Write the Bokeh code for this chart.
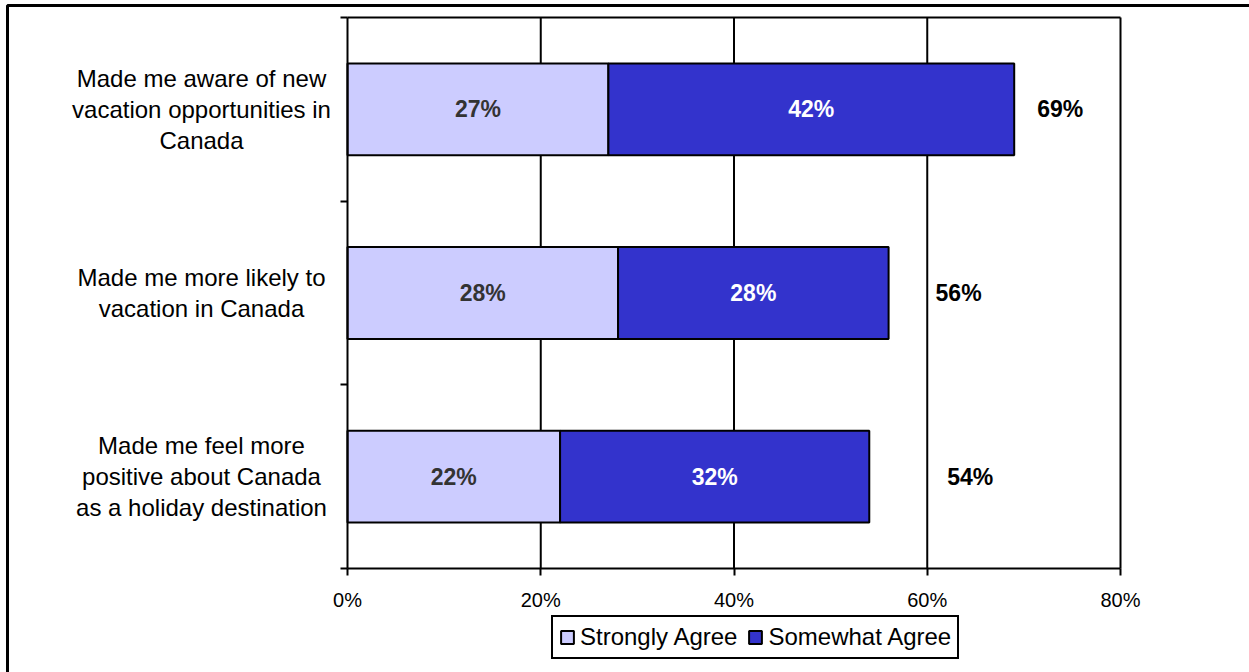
from bokeh.plotting import figure
from bokeh.models import (ColumnDataSource, FixedTicker, PrintfTickFormatter, LabelSet,
                          Legend, LegendItem, Range1d, BoxAnnotation)
from bokeh.core.properties import value
from bokeh.embed import file_html
from bokeh.resources import INLINE

categories = [
    "Made me aware of new\nvacation opportunities in\nCanada",
    "Made me more likely to\nvacation in Canada",
    "Made me feel more\npositive about Canada\nas a holiday destination",
]
strongly_agree = [27, 28, 22]
somewhat_agree = [42, 28, 32]
series_names = ["Strongly Agree", "Somewhat Agree"]
x_ticks = [0, 20, 40, 60, 80]

FONT = "Liberation Sans"
W, H = 1249, 672
PLOT_L, PLOT_R, PLOT_T, PLOT_B = 347, 1120, 17, 568
X_MAX = x_ticks[-1]
LINE_PX = 31

n = len(categories)
ypos = [n - i - 0.5 for i in range(n)]
totals = [a + b for a, b in zip(strongly_agree, somewhat_agree)]

# ranges chosen so that the plot area (0..80, 0..n) sits where the reference has it
kx = (PLOT_R - PLOT_L) / X_MAX
ky = (PLOT_B - PLOT_T) / n
x_range = Range1d(-PLOT_L / kx, (W - PLOT_L) / kx)
y_range = Range1d(-(H - PLOT_B) / ky, n + PLOT_T / ky)

src = ColumnDataSource(dict(
    y=ypos,
    s=strongly_agree,
    total=totals,
    s_mid=[a / 2 for a in strongly_agree],
    w_mid=[a + b / 2 for a, b in zip(strongly_agree, somewhat_agree)],
    s_lab=[f"{v}%" for v in strongly_agree],
    w_lab=[f"{v}%" for v in somewhat_agree],
    t_lab=[f"{v}%" for v in totals],
    t_dx=[46, 70, 101],
))

# one label per text line, so that every line is centred
ln_text, ln_y, ln_dy = [], [], []
for cat, y in zip(categories, ypos):
    lines = cat.split("\n")
    k = len(lines)
    for j, t in enumerate(lines):
        ln_text.append(t)
        ln_y.append(y)
        ln_dy.append(((k - 1) / 2 - j) * LINE_PX)
lines_src = ColumnDataSource(dict(text=ln_text, y=ln_y, dy=ln_dy, zero=[0] * len(ln_text)))

p = figure(width=W, height=H, x_range=x_range, y_range=y_range,
           min_border=0, min_border_left=0, min_border_right=0,
           min_border_top=0, min_border_bottom=0,
           output_backend="svg", toolbar_location=None,
           background_fill_color="white", border_fill_color="white")
p.outline_line_color = None
p.grid.visible = False

# vertical grid lines and top edge of the plot area
grid_x = x_ticks[1:]
p.segment(x0=grid_x, y0=[0] * len(grid_x), x1=grid_x, y1=[n] * len(grid_x),
          line_color="black", line_width=2)
p.segment(x0=[0], y0=[n], x1=[X_MAX], y1=[n], line_color="black", line_width=2)

r1 = p.hbar(y="y", left=0, right="s", height=0.5, fill_color="#CCCCFF",
            line_color="black", line_width=2, source=src)
r2 = p.hbar(y="y", left="s", right="total", height=0.5, fill_color="#3333CC",
            line_color="black", line_width=2, source=src)

xa = p.xaxis[0]
xa.fixed_location = 0
xa.bounds = (0, X_MAX)
xa.ticker = FixedTicker(ticks=x_ticks)
xa.formatter = PrintfTickFormatter(format="%d%%")
xa.major_tick_in = 0
xa.major_tick_out = 7
xa.minor_tick_out = 0
xa.minor_tick_in = 0
xa.axis_line_width = 2
xa.axis_line_color = "black"
xa.major_tick_line_width = 2
xa.major_tick_line_color = "black"
xa.major_label_text_font = FONT
xa.major_label_text_font_size = "20px"
xa.major_label_text_color = "black"
xa.major_label_standoff = 13

ya = p.yaxis[0]
ya.fixed_location = 0
ya.bounds = (0, n)
ya.ticker = FixedTicker(ticks=[], minor_ticks=[float(i) for i in range(n + 1)])
ya.major_label_text_font_size = "0px"
ya.major_tick_in = 0
ya.major_tick_out = 0
ya.minor_tick_in = 0
ya.minor_tick_out = 7
ya.minor_tick_line_width = 2
ya.minor_tick_line_color = "black"
ya.axis_line_width = 2
ya.axis_line_color = "black"

# category labels, left of the axis
p.add_layout(LabelSet(x="zero", y="y", text="text", x_offset=-146, y_offset="dy",
                      source=lines_src, text_align="center", text_baseline="middle",
                      text_font=value(FONT), text_font_size="24px", text_color="black"))

for xf, tf, col in [("s_mid", "s_lab", "#333333"), ("w_mid", "w_lab", "white")]:
    p.add_layout(LabelSet(x=xf, y="y", text=tf, source=src, text_align="center",
                          text_baseline="middle", text_font=value(FONT),
                          text_font_style="bold", text_font_size="23px", text_color=col))
p.add_layout(LabelSet(x="total", y="y", text="t_lab", x_offset="t_dx", source=src,
                      text_align="center", text_baseline="middle", text_font=value(FONT),
                      text_font_style="bold", text_font_size="23px", text_color="black"))

legend = Legend(items=[LegendItem(label=series_names[0], renderers=[r1]),
                       LegendItem(label=series_names[1], renderers=[r2])],
                orientation="horizontal", location=(551, 13))
legend.border_line_color = "black"
legend.border_line_alpha = 1
legend.border_line_width = 2
legend.label_text_font = FONT
legend.label_text_font_size = "24px"
legend.label_text_color = "black"
legend.glyph_width = 16
legend.glyph_height = 16
legend.spacing = 10
legend.padding = 6
legend.margin = 0
legend.label_standoff = 5
legend.background_fill_alpha = 1
p.add_layout(legend)

p.add_layout(BoxAnnotation(left=7, right=W + 50, top=5, bottom=H + 50,
                           left_units="canvas", right_units="canvas",
                           top_units="canvas", bottom_units="canvas",
                           fill_alpha=0, line_color="black", line_alpha=1, line_width=3))

open("out.html", "w").write(file_html(p, INLINE))
